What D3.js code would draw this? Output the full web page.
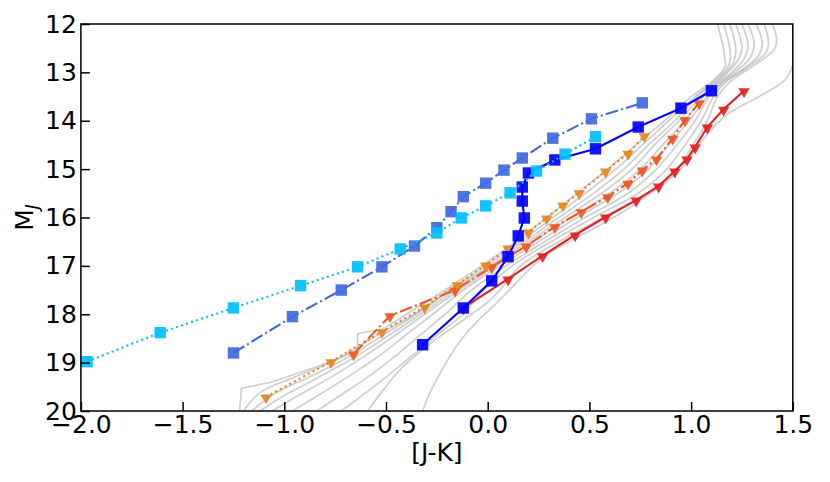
<!DOCTYPE html>
<html>
<head>
<meta charset="utf-8">
<script src="https://cdn.jsdelivr.net/npm/d3@7"></script>
<style>
  body { margin: 0; background: #fff; }
  text { font-family: "DejaVu Sans", sans-serif; }
</style>
</head>
<body>
<div id="chart"></div>
<script>
// colour-magnitude diagram: M_J vs [J-K]

const xTicks = [-2.0, -1.5, -1.0, -0.5, 0.0, 0.5, 1.0, 1.5];
const yTicks = [12, 13, 14, 15, 16, 17, 18, 19, 20];

// light grey model tracks, [J-K, M_J]
const track1 = [[-1.22,20.0],[-1.21,19.53],[-1.07,19.41],[-0.85,19.1],[-0.64,18.76],[-0.64,18.40],[-0.51,18.30],[-0.40,18.0],[-0.21,17.5],[-0.03,17.0],[0.14,16.5],[0.29,16.0],[0.44,15.5],[0.59,15.0],[0.73,14.5],[0.87,14.0],[1.00,13.5],[1.10,13.2],[1.15,13.0],[1.17,12.85],[1.16,12.5],[1.13,12.0]];
const track2 = [[-1.20,20.0],[-1.12,19.62],[-0.95,19.3],[-0.75,18.95],[-0.55,18.45],[-0.36,18.0],[-0.19,17.5],[-0.01,17.0],[0.16,16.5],[0.32,16.0],[0.48,15.5],[0.63,15.0],[0.76,14.5],[0.89,14.0],[1.02,13.5],[1.11,13.2],[1.16,13.0],[1.19,12.8],[1.19,12.5],[1.16,12.0]];
const track3 = [[-1.16,20.0],[-1.05,19.65],[-0.88,19.3],[-0.70,18.92],[-0.52,18.45],[-0.35,18.0],[-0.18,17.5],[0.01,17.0],[0.18,16.5],[0.35,16.0],[0.52,15.5],[0.67,15.0],[0.79,14.5],[0.92,14.0],[1.03,13.5],[1.12,13.2],[1.17,13.0],[1.21,12.78],[1.22,12.5],[1.19,12.0]];
const track4 = [[-1.12,20.0],[-1.00,19.68],[-0.83,19.3],[-0.65,18.88],[-0.49,18.45],[-0.33,18.0],[-0.16,17.5],[0.02,17.0],[0.20,16.5],[0.38,16.0],[0.56,15.5],[0.71,15.0],[0.82,14.5],[0.94,14.0],[1.05,13.5],[1.13,13.2],[1.18,13.0],[1.23,12.75],[1.25,12.5],[1.22,12.0]];
const track5 = [[-1.06,20.0],[-0.94,19.7],[-0.77,19.3],[-0.60,18.85],[-0.45,18.42],[-0.31,18.0],[-0.14,17.5],[0.04,17.0],[0.22,16.5],[0.41,16.0],[0.60,15.5],[0.75,15.0],[0.86,14.5],[0.97,14.0],[1.06,13.5],[1.14,13.2],[1.20,13.0],[1.26,12.72],[1.28,12.45],[1.25,12.0]];
const track6 = [[-0.96,20.0],[-0.85,19.72],[-0.69,19.3],[-0.53,18.85],[-0.40,18.42],[-0.27,18.0],[-0.12,17.5],[0.06,17.0],[0.25,16.5],[0.44,16.0],[0.64,15.5],[0.79,15.0],[0.89,14.5],[0.99,14.0],[1.08,13.5],[1.15,13.2],[1.22,12.98],[1.29,12.7],[1.31,12.4],[1.28,12.0]];
const track7 = [[-0.84,20.0],[-0.74,19.72],[-0.59,19.3],[-0.45,18.85],[-0.33,18.42],[-0.21,18.0],[-0.08,17.5],[0.09,17.0],[0.28,16.5],[0.48,16.0],[0.69,15.5],[0.83,15.0],[0.93,14.5],[1.02,14.0],[1.09,13.5],[1.16,13.2],[1.25,12.95],[1.33,12.66],[1.35,12.4],[1.32,12.0]];
const track8 = [[-0.72,20.0],[-0.63,19.72],[-0.50,19.3],[-0.37,18.85],[-0.24,18.4],[-0.12,18.0],[-0.02,17.5],[0.12,17.0],[0.31,16.5],[0.52,16.0],[0.74,15.5],[0.88,15.0],[0.97,14.5],[1.05,14.0],[1.11,13.5],[1.17,13.2],[1.27,12.92],[1.37,12.58],[1.38,12.35],[1.36,12.0]];
const track9 = [[-0.59,20.0],[-0.52,19.6],[-0.42,19.1],[-0.28,18.6],[-0.13,18.15],[0.00,17.75],[0.06,17.5],[0.16,17.0],[0.35,16.5],[0.57,16.0],[0.79,15.5],[0.93,15.0],[1.01,14.5],[1.08,14.0],[1.13,13.5],[1.19,13.2],[1.30,12.88],[1.41,12.52],[1.42,12.3],[1.40,12.0]];
const track10 = [[-0.32,20.0],[-0.27,19.5],[-0.12,18.47],[0.06,17.7],[0.27,16.83],[0.42,16.46],[0.64,15.95],[0.80,15.5],[0.95,15.0],[1.02,14.6],[1.07,14.33],[1.18,13.86],[1.33,13.51],[1.46,13.16],[1.50,12.85],[1.51,12.0]];
const greyTracks = [track1, track2, track3, track4, track5, track6, track7, track8, track9, track10];

// observed sequences
const cyanJK  = [-1.97,-1.61,-1.25,-0.92,-0.64,-0.43,-0.25,-0.13,-0.01,0.11,0.24,0.38,0.53];
const cyanMJ  = [18.98,18.38,17.87,17.41,17.02,16.65,16.32,16.01,15.76,15.49,15.04,14.69,14.33];

const royalJK = [-1.25,-0.96,-0.72,-0.52,-0.36,-0.25,-0.18,-0.12,-0.01,0.08,0.17,0.32,0.51,0.76];
const royalMJ = [18.80,18.05,17.50,17.02,16.59,16.21,15.88,15.57,15.29,15.02,14.77,14.36,13.96,13.63];

const blueJK  = [-0.32,-0.12,0.02,0.10,0.15,0.18,0.17,0.17,0.20,0.33,0.53,0.74,0.95,1.10];
const blueMJ  = [18.63,17.87,17.31,16.81,16.38,16.01,15.66,15.37,15.08,14.81,14.58,14.13,13.74,13.38];

const orangeJK = [-1.09,-0.77,-0.52,-0.31,-0.15,-0.01,0.10,0.20,0.29,0.37,0.45,0.58,0.69,0.77];
const orangeMJ = [19.71,18.98,18.36,17.85,17.39,16.98,16.63,16.30,16.01,15.74,15.49,15.04,14.67,14.31];

const orredJK = [-0.66,-0.48,-0.16,0.02,0.19,0.33,0.46,0.59,0.69,0.76,0.83,0.91,0.97,1.04];
const orredMJ = [18.82,18.03,17.50,17.02,16.59,16.19,15.88,15.57,15.29,15.02,14.79,14.36,13.98,13.63];

const redJK = [-0.12,0.10,0.27,0.43,0.58,0.73,0.84,0.92,0.98,1.02,1.08,1.16,1.26];
const redMJ = [17.87,17.27,16.79,16.36,15.99,15.64,15.35,15.04,14.79,14.54,14.13,13.76,13.38];

const W = 830, H = 482;
const margin = { top: 24, right: 37.2, bottom: 71, left: 80.9 };

const svg = d3.select('#chart').append('svg')
  .attr('width', W)
  .attr('height', H);

const x = d3.scaleLinear().domain([-2.0, 1.5]).range([margin.left, W - margin.right]);
const y = d3.scaleLinear().domain([12, 20]).range([margin.top, H - margin.bottom]);

svg.append('clipPath').attr('id', 'plot-clip')
  .append('rect')
  .attr('x', x(-2.0)).attr('y', y(12))
  .attr('width', x(1.5) - x(-2.0)).attr('height', y(20) - y(12));

const plot = svg.append('g').attr('clip-path', 'url(#plot-clip)');

const greyLine = d3.line().x(d => x(d[0])).y(d => y(d[1])).curve(d3.curveCatmullRom.alpha(0.5));
const kinkLine = d3.line().x(d => x(d[0])).y(d => y(d[1]));

plot.selectAll('.track')
  .data(greyTracks)
  .enter().append('path')
  .attr('class', 'track')
  .attr('d', (d, i) => i === 0 ? kinkLine(d) : greyLine(d))
  .attr('fill', 'none')
  .attr('stroke', '#a8a8a8')
  .attr('stroke-opacity', 0.55)
  .attr('stroke-width', 1.7);

const series = [
  { xs: redJK,    ys: redMJ,    color: '#e3201f', dash: null,          marker: 'tri' },
  { xs: orredJK,  ys: orredMJ,  color: '#f0561e', dash: '12.8,3.2,2,3.2', marker: 'tri' },
  { xs: orangeJK, ys: orangeMJ, color: '#e6851c', dash: '2,3.3',       marker: 'tri' },
  { xs: blueJK,   ys: blueMJ,   color: '#0000ff', dash: null,          marker: 'sq' },
  { xs: royalJK,  ys: royalMJ,  color: '#4169e1', dash: '12.8,3.2,2,3.2', marker: 'sq' },
  { xs: cyanJK,   ys: cyanMJ,   color: '#00bfff', dash: '2,3.3',       marker: 'sq' }
];

const seqLine = d3.line().x(d => x(d[0])).y(d => y(d[1]));
const tri = d3.symbol().type(d3.symbolTriangle).size(56);

series.forEach(s => {
  const pts = s.xs.map((v, i) => [v, s.ys[i]]);
  const g = plot.append('g');
  g.append('path')
    .attr('d', seqLine(pts))
    .attr('fill', 'none')
    .attr('stroke', s.color)
    .attr('stroke-width', 2.1)
    .attr('stroke-dasharray', s.dash);
  if (s.marker === 'sq') {
    g.selectAll('rect').data(pts).enter().append('rect')
      .attr('x', d => x(d[0]) - 5.7)
      .attr('y', d => y(d[1]) - 5.7)
      .attr('width', 11.4).attr('height', 11.4)
      .attr('fill', s.color)
      .attr('fill-opacity', 0.92);
  } else {
    g.selectAll('path.mk').data(pts).enter().append('path')
      .attr('class', 'mk')
      .attr('d', tri)
      .attr('transform', d => `translate(${x(d[0])},${y(d[1]) + 0.8}) rotate(180)`)
      .attr('fill', s.color)
      .attr('fill-opacity', 0.92);
  }
});

// axes: inward ticks
const xAxis = svg.append('g')
  .attr('transform', `translate(0,${y(20)})`)
  .call(d3.axisBottom(x).tickValues(xTicks).tickSize(-9).tickPadding(4.5).tickFormat(d3.format('.1f')));
const yAxis = svg.append('g')
  .attr('transform', `translate(${x(-2.0)},0)`)
  .call(d3.axisLeft(y).tickValues(yTicks).tickSize(-9).tickPadding(4));

[xAxis, yAxis].forEach(a => {
  a.select('.domain').remove();
  a.selectAll('line').attr('stroke', '#000').attr('stroke-width', 1.5);
  a.selectAll('text').attr('font-size', '25px').attr('fill', '#000')
    .attr('font-family', '"DejaVu Sans", sans-serif');
});

svg.append('rect')
  .attr('x', x(-2.0)).attr('y', y(12))
  .attr('width', x(1.5) - x(-2.0)).attr('height', y(20) - y(12))
  .attr('fill', 'none')
  .attr('stroke', '#000')
  .attr('stroke-width', 1.5);

svg.append('text')
  .attr('x', (x(-2.0) + x(1.5)) / 2)
  .attr('y', 461)
  .attr('text-anchor', 'middle')
  .attr('font-size', '25px')
  .text('[J-K]');

const ylab = svg.append('text')
  .attr('transform', `translate(33,${(y(12) + y(20)) / 2}) rotate(-90)`)
  .attr('text-anchor', 'middle')
  .attr('font-size', '25px');
ylab.append('tspan').text('M');
ylab.append('tspan').attr('font-size', '17px').attr('font-style', 'italic').attr('dy', 5).text('J');
</script>
</body>
</html>
